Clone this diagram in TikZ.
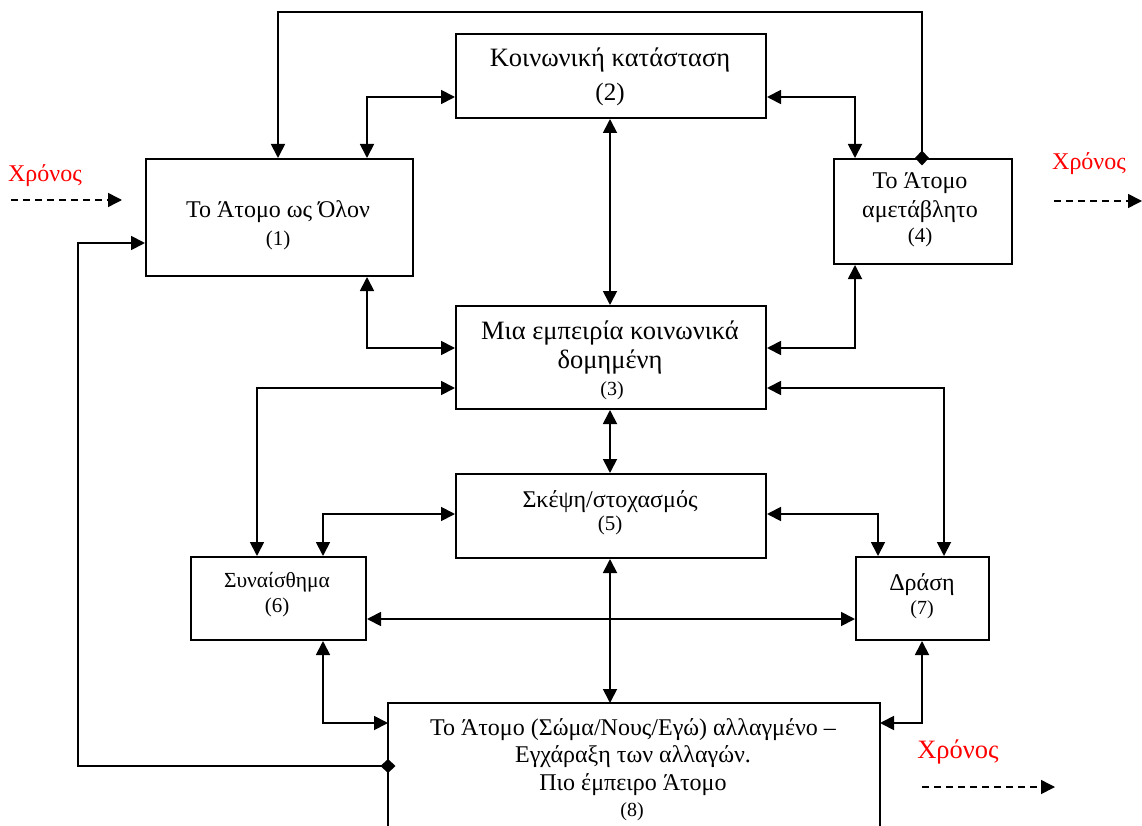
\documentclass[tikz,border=0pt]{standalone}
\usepackage{fontspec}
\setmainfont{Liberation Serif}
\usetikzlibrary{arrows.meta}
\definecolor{timered}{RGB}{255,0,0}
\begin{document}
\begin{tikzpicture}[x=1pt,y=-1pt,
  box/.style={draw, line width=2pt, inner sep=0pt, anchor=north west},
  tip/.tip={Triangle[length=14pt,width=14pt]},
  dia/.tip={Diamond[length=15pt,width=14pt]},
  conn/.style={line width=1.8pt, tip-tip},
  link/.style={line width=1.8pt, dia-tip, shorten <=-7.5pt},
  timearrow/.style={line width=1.5pt, dash pattern=on 7pt off 5pt, -tip},
  txt/.style={anchor=base, inner sep=0pt, font=\fontsize{24}{28}\selectfont},
  num/.style={anchor=base, inner sep=0pt, font=\fontsize{21}{24}\selectfont},
  big/.style={anchor=base, inner sep=0pt, font=\fontsize{26.5}{30}\selectfont},
  timelbl/.style={anchor=base, inner sep=0pt, text=timered, font=\fontsize{24}{28}\selectfont}
]
\useasboundingbox (0,0) rectangle (1142,826);

% boxes
\node[box, minimum width=267pt, minimum height=117pt] (b1) at (145,158) {};
\node[box, minimum width=310pt, minimum height=84pt]  (b2) at (455,33) {};
\node[box, minimum width=310pt, minimum height=103pt] (b3) at (455,305) {};
\node[box, minimum width=178pt, minimum height=105pt] (b4) at (833,158) {};
\node[box, minimum width=310pt, minimum height=84pt]  (b5) at (455,473) {};
\node[box, minimum width=175pt, minimum height=83pt]  (b6) at (190,556) {};
\node[box, minimum width=133pt, minimum height=83pt]  (b7) at (855,556) {};
\node[box, draw=none, minimum width=490pt, minimum height=130pt] (b8) at (388,703) {};
\draw[line width=2pt] (b8.south west) -- (b8.north west) -- (b8.north east) -- (b8.south east);

% box texts
\node[txt] (t1a) at (278,218) {Το Άτομο ως Όλον};
\node[num] (t1b) at (278,245) {(1)};
\node[big] (t2a) at (610,67) {Κοινωνική κατάσταση};
\node[num, font=\fontsize{25}{28}\selectfont] (t2b) at (610,101) {(2)};
\node[big] (t3a) at (610,339) {Μια εμπειρία κοινωνικά};
\node[big] (t3b) at (610,368) {δομημένη};
\node[num, font=\fontsize{20}{24}\selectfont] (t3c) at (612,395) {(3)};
\node[txt] (t4a) at (920,189) {Το Άτομο};
\node[txt] (t4b) at (920,218) {αμετάβλητο};
\node[num] (t4c) at (920,243) {(4)};
\node[txt] (t5a) at (610,507) {Σκέψη/στοχασμός};
\node[num] (t5b) at (610,530) {(5)};
\node[num, font=\fontsize{21.5}{24}\selectfont] (t6a) at (277,587) {Συναίσθημα};
\node[num] (t6b) at (277,612) {(6)};
\node[txt] (t7a) at (922,590) {Δράση};
\node[num, font=\fontsize{20}{24}\selectfont] (t7b) at (922,614) {(7)};
\node[txt] (t8a) at (633,735) {Το Άτομο (Σώμα/Νους/Εγώ) αλλαγμένο –};
\node[txt] (t8b) at (633,762) {Εγχάραξη των αλλαγών.};
\node[txt] (t8c) at (633,790) {Πιο έμπειρο Άτομο};
\node[num, font=\fontsize{20}{24}\selectfont] (t8d) at (632,816) {(8)};

% time markers
\node[timelbl] (c1) at (45,182) {Χρόνος};
\node[timelbl] (c2) at (1089,170) {Χρόνος};
\node[timelbl, font=\fontsize{26.5}{30}\selectfont] (c3) at (958,758) {Χρόνος};
\coordinate (d1s) at (11,200);   \coordinate (d1e) at (122,200);
\coordinate (d2s) at (1054,201); \coordinate (d2e) at (1142,201);
\coordinate (d3s) at (922,787);  \coordinate (d3e) at (1055,787);
\draw[timearrow] (d1s) -- (d1e);
\draw[timearrow] (d2s) -- (d2e);
\draw[timearrow] (d3s) -- (d3e);

% connectors
\draw[link] (922,0 |- b4.north) -- (922,12) -| (278,0 |- b1.north);
\draw[conn] (367,0 |- b1.north) |- (b2.west |- 0,97);
\draw[conn] (b2.east |- 0,97) -| (855,0 |- b4.north);
\draw[conn] (610,0 |- b2.south) -- (610,0 |- b3.north);
\draw[conn] (367,0 |- b1.south) |- (b3.west |- 0,348);
\draw[conn] (855,0 |- b4.south) |- (b3.east |- 0,348);
\draw[conn] (b3.west |- 0,388) -| (257,0 |- b6.north);
\draw[conn] (b3.east |- 0,388) -| (944,0 |- b7.north);
\draw[conn] (610,0 |- b3.south) -- (610,0 |- b5.north);
\draw[conn] (b5.west |- 0,514) -| (323,0 |- b6.north);
\draw[conn] (b5.east |- 0,514) -| (878,0 |- b7.north);
\draw[conn] (b6.east |- 0,619) -- (b7.west |- 0,619);
\draw[conn] (610,0 |- b5.south) -- (610,0 |- b8.north);
\draw[conn] (323,0 |- b6.south) |- (b8.west |- 0,723);
\draw[conn] (922,0 |- b7.south) |- (b8.east |- 0,723);
\draw[link] (b8.west |- 0,766) -| (78,243) -- (b1.west |- 0,243);
\end{tikzpicture}
\end{document}
